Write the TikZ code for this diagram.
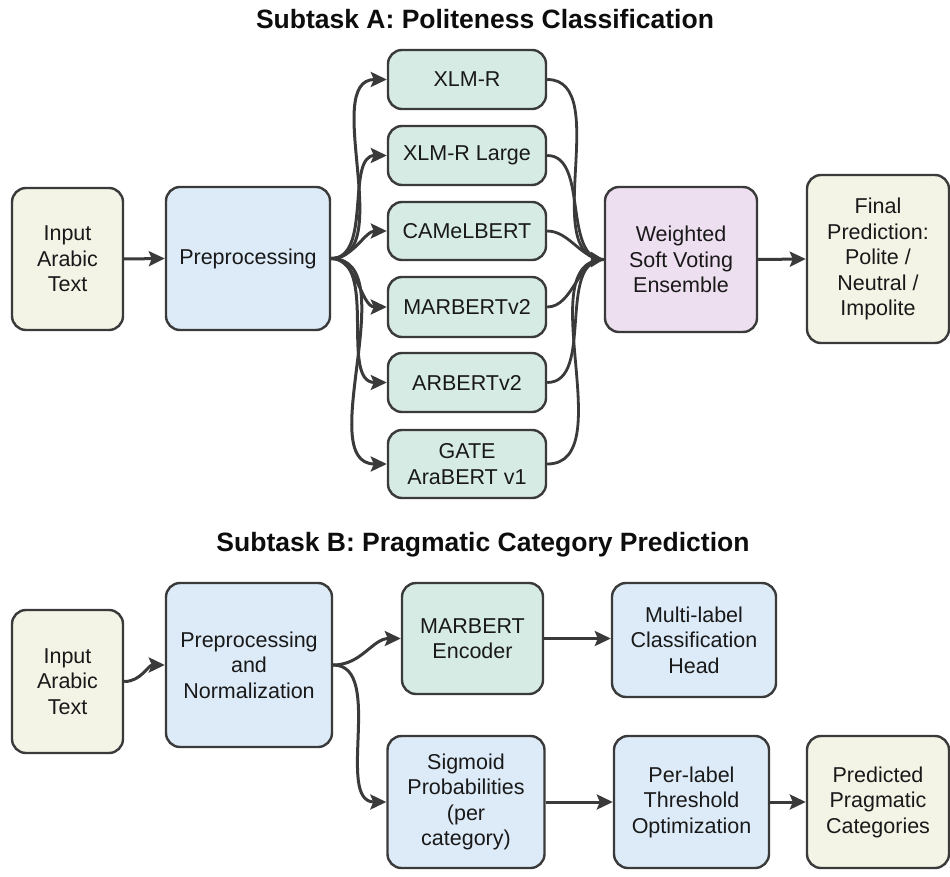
\documentclass[tikz,border=0pt]{standalone}
\usepackage{fontspec}
\setmainfont{Liberation Sans}
\usetikzlibrary{arrows.meta}

\definecolor{linec}{HTML}{3A3A3A}
\definecolor{creamf}{HTML}{F3F3E6}
\definecolor{bluef}{HTML}{DDEBF8}
\definecolor{greenf}{HTML}{D6EBE3}
\definecolor{purplef}{HTML}{EEDFF0}

\tikzset{
  box/.style={draw=linec, line width=2.4pt, rounded corners=14pt, align=center,
    inner sep=2pt, font=\fontsize{21.5}{25.5}\selectfont, text=black!90},
  cream/.style={box, fill=creamf},
  bluebox/.style={box, fill=bluef},
  greenbox/.style={box, fill=greenf},
  purplebox/.style={box, fill=purplef},
  sz/.style n args={2}{minimum width=#1pt, minimum height=#2pt},
  flow/.style={draw=linec, line width=3pt, -{Stealth[length=16pt,width=15pt,inset=3pt]}},
  merge/.style={draw=linec, line width=2.8pt},
  heading/.style={font=\fontsize{26.5}{30}\selectfont\bfseries, text=black!95}
}

\begin{document}
\begin{tikzpicture}[x=1pt,y=-1pt]
\useasboundingbox (0,0) rectangle (950,877);

% ---------- Subtask A ----------
\node[heading] (tA) at (485,19) {Subtask A: Politeness Classification};

\node[cream, sz={111}{142}] (inA) at (67.5,259) {Input\\Arabic\\Text};
\node[bluebox, sz={164}{143}] (preA) at (248,258.5) {Preprocessing};

\node[greenbox, sz={158}{59}] (m1) at (467,79.5) {XLM-R};
\node[greenbox, sz={158}{59}] (m2) at (467,155.5) {XLM-R Large};
\node[greenbox, sz={158}{58}] (m3) at (467,231) {CAMeLBERT};
\node[greenbox, sz={158}{60}] (m4) at (467,307) {MARBERTv2};
\node[greenbox, sz={158}{59}] (m5) at (467,382.5) {ARBERTv2};
\node[greenbox, sz={158}{68}] (m6) at (467,464) {GATE\\AraBERT v1};

\node[purplebox, sz={152}{145}] (ens) at (681,259.5) {Weighted\\Soft Voting\\Ensemble};
\node[cream, sz={142}{168}] (fin) at (878,259) {Final\\Prediction:\\Polite /\\Neutral /\\Impolite};

\draw[flow] (inA.east) -- (preA.west);
\foreach \m in {m1,m2,m3,m4,m5,m6}{
  \draw[flow] (preA.east) to[out=0,in=180,looseness=0.9] (\m.west);
  \draw[merge] (\m.east) to[out=0,in=180,looseness=0.9] (ens.west);
}
\fill[linec] (ens.west) ++(-13,-8) -- (ens.west) -- ++(-13,8) -- cycle;
\draw[flow] (ens.east) -- (fin.west);

% ---------- Subtask B ----------
\node[heading] (tB) at (483,545) {Subtask B: Pragmatic Category Prediction};

\node[cream, sz={111}{143}] (inB) at (67.5,681.5) {Input\\Arabic\\Text};
\node[bluebox, sz={166}{164}] (preB) at (249,665) {Preprocessing\\and\\Normalization};

\node[greenbox, sz={141}{111}] (enc) at (472.5,638.5) {MARBERT\\Encoder};
\node[bluebox, sz={164}{114}] (head) at (694,640) {Multi-label\\Classification\\Head};

\node[bluebox, sz={157}{132}] (sig) at (466,802) {Sigmoid\\Probabilities\\(per\\category)};
\node[bluebox, sz={155}{132}] (thr) at (691.5,802) {Per-label\\Threshold\\Optimization};
\node[cream, sz={142}{132}] (pred) at (878,802) {Predicted\\Pragmatic\\Categories};

\draw[flow] (inB.east) to[out=0,in=180] (preB.west);
\draw[flow] (preB.east) to[out=0,in=180] (enc.west);
\draw[flow] (preB.east) to[out=0,in=180,looseness=0.9] (sig.west);
\draw[flow] (enc.east) -- (head.west |- enc.east);
\draw[flow] (sig.east) -- (thr.west);
\draw[flow] (thr.east) -- (pred.west);
\end{tikzpicture}
\end{document}
